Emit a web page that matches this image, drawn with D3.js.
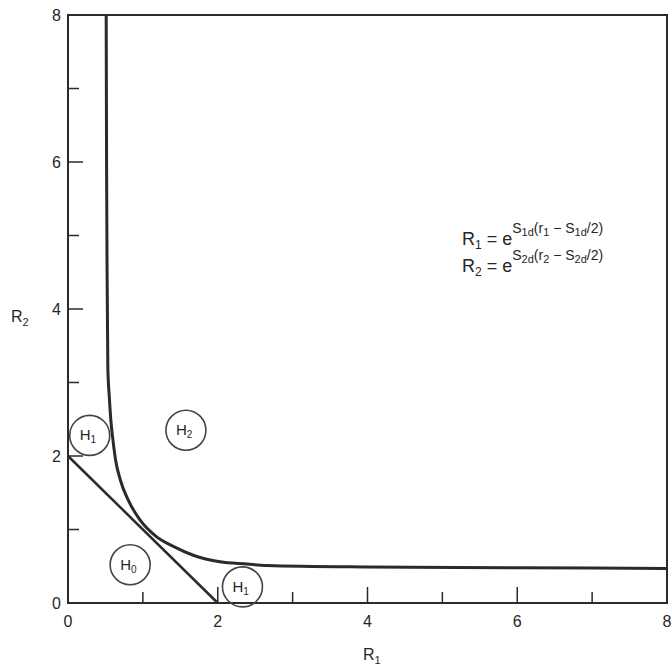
<!DOCTYPE html>
<html>
<head>
<meta charset="utf-8">
<script src="https://cdn.jsdelivr.net/npm/d3@7"></script>
<style>
  body { margin: 0; background: #fff; }
  text { font-family: "Liberation Sans", Arial, sans-serif; fill: #262626; }
</style>
</head>
<body>
<div id="chart"></div>
<script>
// Axis ticks
const xTickValues = [1, 2, 3, 4, 5, 6, 7];
const yTickValues = [1, 2, 3, 4, 5, 6, 7];
const xTickLabels = [0, 2, 4, 6, 8];
const yTickLabels = [0, 2, 4, 6, 8];

// Straight boundary (H0 / H1)
const lineR1 = [0, 2];
const lineR2 = [2, 0];

// Curved boundary (H1 / H2)
const curveR1 = [0.51, 0.515, 0.522, 0.532, 0.552, 0.572, 0.60, 0.635, 0.70, 0.805, 0.961, 1.184, 1.406, 1.673, 2.03, 2.39, 2.65, 4, 6, 8];
const curveR2 = [8, 6, 4.5, 3.2, 2.8, 2.49, 2.22, 1.95, 1.67, 1.40, 1.13, 0.90, 0.77, 0.65, 0.56, 0.53, 0.51, 0.49, 0.48, 0.47];

// Circled region labels
const regionNames = ["1", "2", "0", "1"];
const regionR1 = [0.29, 1.575, 0.83, 2.33];
const regionR2 = [2.28, 2.35, 0.52, 0.22];

const width = 672, height = 670;

const x = d3.scaleLinear().domain([0, 8]).range([68, 667]);
const y = d3.scaleLinear().domain([0, 8]).range([603, 15]);

const svg = d3.select("#chart")
    .append("svg")
    .attr("width", width)
    .attr("height", height);

const ink = "#2a2a2a";

// Frame
svg.append("rect")
    .attr("x", x(0))
    .attr("y", y(8))
    .attr("width", x(8) - x(0))
    .attr("height", y(0) - y(8))
    .attr("fill", "none")
    .attr("stroke", ink)
    .attr("stroke-width", 2);

// Bottom axis ticks (pointing up)
svg.selectAll(".xtick")
    .data(xTickValues)
    .join("line")
    .attr("x1", d => x(d))
    .attr("x2", d => x(d))
    .attr("y1", y(0))
    .attr("y2", d => y(0) - (d % 2 === 0 ? 16 : 11))
    .attr("stroke", ink)
    .attr("stroke-width", 1.5);

// Left axis ticks (pointing right)
svg.selectAll(".ytick")
    .data(yTickValues)
    .join("line")
    .attr("x1", x(0))
    .attr("x2", d => x(0) + (d % 2 === 0 ? 15 : 11))
    .attr("y1", d => y(d))
    .attr("y2", d => y(d))
    .attr("stroke", ink)
    .attr("stroke-width", 1.5);

// Tick labels
svg.selectAll(".xlab")
    .data(xTickLabels)
    .join("text")
    .attr("x", d => x(d))
    .attr("y", y(0) + 24)
    .attr("text-anchor", "middle")
    .attr("font-size", 16)
    .text(d => d);

svg.selectAll(".ylab")
    .data(yTickLabels)
    .join("text")
    .attr("x", x(0) - 7)
    .attr("y", d => y(d) + 6)
    .attr("text-anchor", "end")
    .attr("font-size", 16)
    .text(d => d);

// Axis titles
const xTitle = svg.append("text")
    .attr("x", 363)
    .attr("y", 660)
    .attr("font-size", 16);
xTitle.append("tspan").text("R");
xTitle.append("tspan").attr("font-size", 11).attr("dy", 4).text("1");

const yTitle = svg.append("text")
    .attr("x", 11)
    .attr("y", 322)
    .attr("font-size", 16);
yTitle.append("tspan").text("R");
yTitle.append("tspan").attr("font-size", 11).attr("dy", 4).text("2");

// Straight line boundary
svg.append("path")
    .datum(d3.zip(lineR1, lineR2))
    .attr("d", d3.line().x(d => x(d[0])).y(d => y(d[1])))
    .attr("fill", "none")
    .attr("stroke", ink)
    .attr("stroke-width", 2.5);

// Curved boundary
svg.append("path")
    .datum(d3.zip(curveR1, curveR2))
    .attr("d", d3.line()
        .x(d => x(d[0]))
        .y(d => y(d[1]))
        .curve(d3.curveMonotoneX))
    .attr("fill", "none")
    .attr("stroke", ink)
    .attr("stroke-width", 3);

// Circled hypothesis labels
const regions = svg.selectAll(".region")
    .data(d3.zip(regionNames, regionR1, regionR2))
    .join("g")
    .attr("transform", d => `translate(${x(d[1])},${y(d[2])})`);

regions.append("circle")
    .attr("r", 20)
    .attr("fill", "none")
    .attr("stroke", "#444")
    .attr("stroke-width", 1.6);

const regionText = regions.append("text")
    .attr("x", -10)
    .attr("y", 5)
    .attr("font-size", 15);
regionText.append("tspan").text("H");
regionText.append("tspan").attr("font-size", 10).attr("dy", 3).text(d => d[0]);

// Equations
function equation(yPos, idx) {
    const t = svg.append("text")
        .attr("x", 462)
        .attr("y", yPos)
        .attr("font-size", 18);
    t.append("tspan").text("R");
    t.append("tspan").attr("font-size", 12).attr("dy", 4).text(idx);
    t.append("tspan").attr("dy", -4).text(" = e");
    t.append("tspan").attr("font-size", 14).attr("dy", -12).text("S");
    t.append("tspan").attr("font-size", 11).attr("dy", 3).text(idx + "d");
    t.append("tspan").attr("font-size", 14).attr("dy", -3).text("(r");
    t.append("tspan").attr("font-size", 11).attr("dy", 3).text(idx);
    t.append("tspan").attr("font-size", 14).attr("dy", -3).text(" \u2212 S");
    t.append("tspan").attr("font-size", 11).attr("dy", 3).text(idx + "d");
    t.append("tspan").attr("font-size", 14).attr("dy", -3).text("/2)");
}
equation(245, "1");
equation(272, "2");
</script>
</body>
</html>
